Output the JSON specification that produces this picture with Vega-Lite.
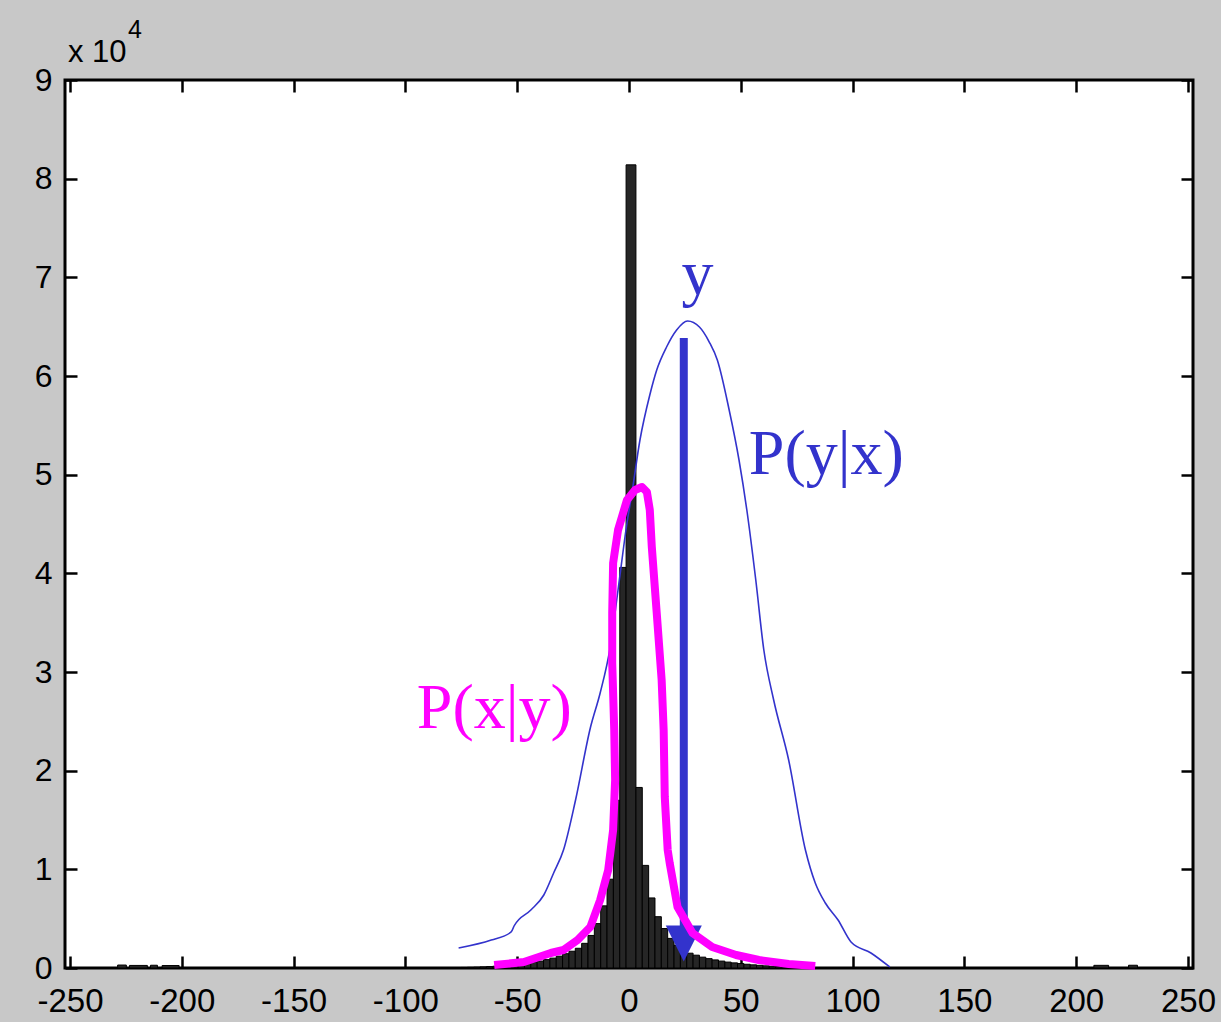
{
  "$schema": "https://vega.github.io/schema/vega-lite/v6.json",
  "width": 1128,
  "height": 888,
  "autosize": {"type": "none"},
  "padding": {"left": 65, "top": 80, "right": 28, "bottom": 54},
  "background": "#c8c8c8",
  "view": {"fill": "white", "stroke": "black", "strokeWidth": 3},
  "datasets": {
    "hist": [
      {"x0": -228.7, "x1": -224.8, "count": 300},
      {"x0": -223.4, "x1": -215.4, "count": 260},
      {"x0": -214.0, "x1": -210.9, "count": 280},
      {"x0": -208.8, "x1": -201.2, "count": 250},
      {"x0": -86.50, "x1": -83.66, "count": 20},
      {"x0": -83.66, "x1": -80.82, "count": 25},
      {"x0": -80.82, "x1": -77.98, "count": 32},
      {"x0": -77.98, "x1": -75.14, "count": 42},
      {"x0": -75.14, "x1": -72.30, "count": 55},
      {"x0": -72.30, "x1": -69.46, "count": 70},
      {"x0": -69.46, "x1": -66.62, "count": 90},
      {"x0": -66.62, "x1": -63.78, "count": 115},
      {"x0": -63.78, "x1": -60.94, "count": 145},
      {"x0": -60.94, "x1": -58.10, "count": 180},
      {"x0": -58.10, "x1": -55.26, "count": 220},
      {"x0": -55.26, "x1": -52.42, "count": 270},
      {"x0": -52.42, "x1": -49.58, "count": 330},
      {"x0": -49.58, "x1": -46.74, "count": 400},
      {"x0": -46.74, "x1": -43.90, "count": 480},
      {"x0": -43.90, "x1": -41.06, "count": 580},
      {"x0": -41.06, "x1": -38.22, "count": 700},
      {"x0": -38.22, "x1": -35.38, "count": 850},
      {"x0": -35.38, "x1": -32.54, "count": 1000},
      {"x0": -32.54, "x1": -29.70, "count": 1200},
      {"x0": -29.70, "x1": -26.86, "count": 1450},
      {"x0": -26.86, "x1": -24.02, "count": 1700},
      {"x0": -24.02, "x1": -21.18, "count": 2000},
      {"x0": -21.18, "x1": -18.34, "count": 2500},
      {"x0": -18.34, "x1": -15.50, "count": 3300},
      {"x0": -15.50, "x1": -12.66, "count": 4500},
      {"x0": -12.66, "x1": -9.82, "count": 6300},
      {"x0": -9.82, "x1": -6.98, "count": 9000},
      {"x0": -6.98, "x1": -4.14, "count": 17000},
      {"x0": -4.14, "x1": -1.30, "count": 40600},
      {"x0": -1.30, "x1": 3.10, "count": 81400},
      {"x0": 3.10, "x1": 5.94, "count": 18300},
      {"x0": 5.94, "x1": 8.78, "count": 10400},
      {"x0": 8.78, "x1": 11.62, "count": 7100},
      {"x0": 11.62, "x1": 14.46, "count": 5200},
      {"x0": 14.46, "x1": 17.30, "count": 4000},
      {"x0": 17.30, "x1": 20.14, "count": 3000},
      {"x0": 20.14, "x1": 22.98, "count": 2300},
      {"x0": 22.98, "x1": 25.82, "count": 1800},
      {"x0": 25.82, "x1": 28.66, "count": 1500},
      {"x0": 28.66, "x1": 31.50, "count": 1300},
      {"x0": 31.50, "x1": 34.34, "count": 1100},
      {"x0": 34.34, "x1": 37.18, "count": 950},
      {"x0": 37.18, "x1": 40.02, "count": 820},
      {"x0": 40.02, "x1": 42.86, "count": 700},
      {"x0": 42.86, "x1": 45.70, "count": 600},
      {"x0": 45.70, "x1": 48.54, "count": 520},
      {"x0": 48.54, "x1": 51.38, "count": 450},
      {"x0": 51.38, "x1": 54.22, "count": 380},
      {"x0": 54.22, "x1": 57.06, "count": 320},
      {"x0": 57.06, "x1": 59.90, "count": 270},
      {"x0": 59.90, "x1": 62.74, "count": 220},
      {"x0": 62.74, "x1": 65.58, "count": 180},
      {"x0": 65.58, "x1": 68.42, "count": 150},
      {"x0": 68.42, "x1": 71.26, "count": 120},
      {"x0": 71.26, "x1": 74.10, "count": 95},
      {"x0": 74.10, "x1": 76.94, "count": 75},
      {"x0": 76.94, "x1": 79.78, "count": 60},
      {"x0": 79.78, "x1": 82.62, "count": 48},
      {"x0": 82.62, "x1": 85.46, "count": 38},
      {"x0": 85.46, "x1": 88.30, "count": 30},
      {"x0": 88.30, "x1": 91.14, "count": 24},
      {"x0": 91.14, "x1": 93.98, "count": 19},
      {"x0": 93.98, "x1": 96.82, "count": 15},
      {"x0": 96.82, "x1": 99.66, "count": 12},
      {"x0": 207.9, "x1": 214.5, "count": 270},
      {"x0": 223.4, "x1": 227.4, "count": 280}
    ],
    "pyx": [
      {"x": -76.2, "y": 2027},
      {"x": -61.6, "y": 2838},
      {"x": -52.7, "y": 3649},
      {"x": -51.4, "y": 4257},
      {"x": -43.9, "y": 5878},
      {"x": -38.1, "y": 7399},
      {"x": -33.7, "y": 9628},
      {"x": -29.3, "y": 11959},
      {"x": -23.9, "y": 17027},
      {"x": -17.3, "y": 24324},
      {"x": -12.9, "y": 27871},
      {"x": -8.4, "y": 32533},
      {"x": -4.9, "y": 38310},
      {"x": -0.9, "y": 45101},
      {"x": 1.3, "y": 48141},
      {"x": 4.9, "y": 53513},
      {"x": 9.3, "y": 58074},
      {"x": 12.4, "y": 60607},
      {"x": 16.8, "y": 62938},
      {"x": 21.3, "y": 64661},
      {"x": 26.2, "y": 65573},
      {"x": 31.5, "y": 64965},
      {"x": 35.9, "y": 63445},
      {"x": 39.5, "y": 61621},
      {"x": 44.8, "y": 56553},
      {"x": 49.2, "y": 51486},
      {"x": 52.7, "y": 46418},
      {"x": 56.7, "y": 39324},
      {"x": 60.3, "y": 32229},
      {"x": 64.7, "y": 27162},
      {"x": 71.4, "y": 21081},
      {"x": 78.9, "y": 11959},
      {"x": 83.3, "y": 8615},
      {"x": 87.8, "y": 6588},
      {"x": 93.5, "y": 4865},
      {"x": 99.3, "y": 2635},
      {"x": 108.2, "y": 1520},
      {"x": 116.6, "y": 101}
    ],
    "pxy": [
      {"i": 1, "x": -60.3, "y": 304},
      {"i": 2, "x": -47.0, "y": 608},
      {"i": 3, "x": -35.0, "y": 1520},
      {"i": 4, "x": -29.3, "y": 1824},
      {"i": 5, "x": -23.0, "y": 2838},
      {"i": 6, "x": -17.3, "y": 4155},
      {"i": 7, "x": -12.9, "y": 6892},
      {"i": 8, "x": -9.3, "y": 9932},
      {"i": 9, "x": -7.1, "y": 13986},
      {"i": 10, "x": -6.2, "y": 19054},
      {"i": 11, "x": -6.6, "y": 24121},
      {"i": 12, "x": -7.5, "y": 30912},
      {"i": 13, "x": -7.5, "y": 35979},
      {"i": 14, "x": -7.1, "y": 41047},
      {"i": 15, "x": -4.9, "y": 44392},
      {"i": 16, "x": -0.9, "y": 47432},
      {"i": 17, "x": 2.7, "y": 48446},
      {"i": 18, "x": 5.8, "y": 48750},
      {"i": 19, "x": 8.0, "y": 48243},
      {"i": 20, "x": 9.3, "y": 46418},
      {"i": 21, "x": 10.2, "y": 42668},
      {"i": 22, "x": 12.4, "y": 35979},
      {"i": 23, "x": 14.6, "y": 29189},
      {"i": 24, "x": 15.5, "y": 24121},
      {"i": 25, "x": 16.0, "y": 17331},
      {"i": 26, "x": 17.3, "y": 11959},
      {"i": 27, "x": 18.2, "y": 10642},
      {"i": 28, "x": 21.7, "y": 6182},
      {"i": 29, "x": 28.4, "y": 3547},
      {"i": 30, "x": 37.2, "y": 2128},
      {"i": 31, "x": 47.9, "y": 1318},
      {"i": 32, "x": 58.1, "y": 811},
      {"i": 33, "x": 71.4, "y": 405},
      {"i": 34, "x": 83.3, "y": 203}
    ]
  },
  "layer": [
    {
      "data": {"name": "hist"},
      "mark": {"type": "bar", "fill": "#262626", "stroke": "#000000", "strokeWidth": 1, "orient": "vertical"},
      "encoding": {
        "x": {"field": "x0", "type": "quantitative",
              "scale": {"domain": [-250, 250], "nice": false, "zero": false},
              "axis": {"orient": "bottom", "values": [-250, -200, -150, -100, -50, 0, 50, 100, 150, 200, 250],
                       "labelExpr": "toString(datum.value)", "labelFont": "Liberation Sans, Arial, sans-serif",
                       "labelFontSize": 33, "labelColor": "#000000", "tickColor": "#000000", "tickSize": -12, "tickWidth": 2.5,
                       "domain": false, "grid": false, "title": null, "labelPadding": 29, "labelFlush": false,
                       "labelOverlap": false, "labelBound": false}},
        "x2": {"field": "x1"},
        "y": {"field": "count", "type": "quantitative",
              "scale": {"domain": [0, 90000], "nice": false, "zero": true},
              "axis": {"orient": "left", "values": [0, 10000, 20000, 30000, 40000, 50000, 60000, 70000, 80000, 90000],
                       "labelExpr": "toString(datum.value / 10000)", "labelFont": "Liberation Sans, Arial, sans-serif",
                       "labelFontSize": 32, "labelColor": "#000000", "tickColor": "#000000", "tickSize": -12, "tickWidth": 2.5,
                       "domain": false, "grid": false, "title": null, "labelPadding": 25, "labelOverlap": false, "labelBound": false}},
        "y2": {"datum": 0}
      }
    },
    {
      "data": {"name": "pyx"},
      "mark": {"type": "line", "color": "#3333cc", "strokeWidth": 1.6, "interpolate": "monotone"},
      "encoding": {
        "x": {"field": "x", "type": "quantitative",
              "axis": {"orient": "top", "values": [-250, -200, -150, -100, -50, 0, 50, 100, 150, 200, 250], "labels": false,
                       "tickColor": "#000000", "tickSize": -12, "tickWidth": 2.5, "domain": false, "grid": false, "title": null}},
        "y": {"field": "y", "type": "quantitative",
              "axis": {"orient": "right", "values": [0, 10000, 20000, 30000, 40000, 50000, 60000, 70000, 80000, 90000], "labels": false,
                       "tickColor": "#000000", "tickSize": -12, "tickWidth": 2.5, "domain": false, "grid": false, "title": null}}
      }
    },
    {
      "data": {"values": [{"x": 24.5, "ytop": 63851, "ybot": 3851}]},
      "mark": {"type": "rule", "color": "#3333cc", "strokeWidth": 8},
      "encoding": {
        "x": {"field": "x", "type": "quantitative", "axis": null},
        "y": {"field": "ytop", "type": "quantitative", "axis": null},
        "y2": {"field": "ybot"}
      }
    },
    {
      "data": {"values": [{"x": 24.5, "y": 2483}]},
      "mark": {"type": "point", "shape": "M-1,-1L1,-1L0,1Z", "filled": true, "color": "#3333cc", "size": 1300, "opacity": 1},
      "encoding": {
        "x": {"field": "x", "type": "quantitative", "axis": null},
        "y": {"field": "y", "type": "quantitative", "axis": null}
      }
    },
    {
      "data": {"name": "pxy"},
      "mark": {"type": "line", "color": "#ff00ff", "strokeWidth": 8, "strokeJoin": "round", "strokeCap": "butt"},
      "encoding": {
        "x": {"field": "x", "type": "quantitative", "axis": null},
        "y": {"field": "y", "type": "quantitative", "axis": null},
        "order": {"field": "i", "type": "quantitative"}
      }
    },
    {
      "data": {"values": [
        {"label": "y", "x": 23.5, "y": 68310, "curve": "likelihood"},
        {"label": "P(y|x)", "x": 53.6, "y": 50067, "curve": "likelihood"},
        {"label": "P(x|y)", "x": -94.9, "y": 24324, "curve": "posterior"}
      ]},
      "mark": {"type": "text", "font": "Liberation Serif, Times New Roman, serif", "fontSize": 64, "align": "left", "baseline": "alphabetic"},
      "encoding": {
        "x": {"field": "x", "type": "quantitative", "axis": null},
        "y": {"field": "y", "type": "quantitative", "axis": null},
        "text": {"field": "label"},
        "color": {"field": "curve", "type": "nominal", "scale": {"domain": ["likelihood", "posterior"], "range": ["#3333cc", "#ff00ff"]}, "legend": null}
      }
    },
    {
      "data": {"values": [{"label": "x 10", "x": -250.9, "y": 91823}]},
      "mark": {"type": "text", "font": "Liberation Sans, Arial, sans-serif", "fontSize": 31, "align": "left", "baseline": "alphabetic", "color": "#000000"},
      "encoding": {
        "x": {"field": "x", "type": "quantitative", "axis": null},
        "y": {"field": "y", "type": "quantitative", "axis": null},
        "text": {"field": "label"}
      }
    },
    {
      "data": {"values": [{"label": "4", "x": -224.1, "y": 94250}]},
      "mark": {"type": "text", "font": "Liberation Sans, Arial, sans-serif", "fontSize": 25, "align": "left", "baseline": "alphabetic", "color": "#000000"},
      "encoding": {
        "x": {"field": "x", "type": "quantitative", "axis": null},
        "y": {"field": "y", "type": "quantitative", "axis": null},
        "text": {"field": "label"}
      }
    }
  ],
  "resolve": {"axis": {"x": "independent", "y": "independent"}}
}
